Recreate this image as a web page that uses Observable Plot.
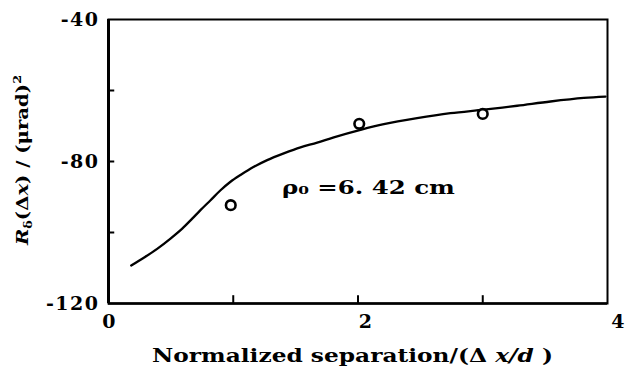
<!DOCTYPE html>
<html><head><meta charset="utf-8">
<script src="https://cdn.jsdelivr.net/npm/d3@7"></script>
<script src="https://cdn.jsdelivr.net/npm/@observablehq/plot@0.6"></script>
<style>
body{margin:0;background:#fff;}
</style>
</head><body><div id="chart"></div>
<script>
const curveX = [0.182,0.283,0.390,0.497,0.591,0.671,0.737,0.818,0.898,0.978,1.058,1.165,1.272,1.405,1.539,1.673,1.806,2.020,2.207,2.474,2.741,3.009,3.276,3.543,3.810,3.984];
const curveY = [-109.3,-107.1,-104.6,-101.7,-98.9,-96.1,-93.7,-90.9,-88.1,-85.7,-83.8,-81.5,-79.6,-77.7,-76.0,-74.7,-73.2,-71.1,-69.5,-67.8,-66.4,-65.4,-64.3,-63.1,-62.1,-61.7];
const pointX = [0.98,2.01,3.0];
const pointY = [-92.3,-69.4,-66.6];
const xTickLabels = ["0","2","4"];
const yTickLabels = ["-40","-80","-120"];
const minorX = [1,2,3];
const minorY = [-60,-80,-100];
const annotation = "ρ₀ =6. 42 cm";
const xTitle = ["Normalized separation/(Δ ", "x/d", " )"];

const curve = curveX.map((x,i)=>({x,y:curveY[i]}));
const pts = pointX.map((x,i)=>({x,y:pointY[i]}));
const FONT = "'DejaVu Serif','Liberation Serif',serif";

const xLabelMarks = xTickLabels.map((t,i)=>
  Plot.axisX([+t],{tickSize:0, tickPadding:11, fontSize:19, fontWeight:"bold", label:null,
    tickFormat:()=>t, dx:[1,8,11][i]}));

const plot = Plot.plot({
  width:634, height:367,
  marginLeft:108, marginRight:27, marginTop:19, marginBottom:64,
  style:{fontFamily:FONT, background:"#fff", color:"#000"},
  x:{domain:[0,4]},
  y:{domain:[-120,-40]},
  marks:[
    Plot.frame({stroke:"#000", strokeWidth:2}),
    Plot.ruleY([-120],{stroke:"#000", strokeWidth:2.5}),
    Plot.ruleX([0],{stroke:"#000", strokeWidth:3}),
    Plot.ruleX(minorX,{x:d=>d, y1:()=>-120, y2:()=>-117.8, stroke:"#000", strokeWidth:2}),
    Plot.ruleY(minorY,{y:d=>d, x1:()=>0, x2:()=>0.05, stroke:"#000", strokeWidth:2}),
    ...xLabelMarks,
    Plot.axisY(yTickLabels.map(Number),{tickSize:0, tickPadding:9, fontSize:19, fontWeight:"bold", label:null,
      tickFormat:d=>String(d)}),
    Plot.line(curve,{x:"x", y:"y", curve:"catmull-rom", stroke:"#000", strokeWidth:2.3}),
    Plot.dot(pts,{x:"x", y:"y", r:4.8, stroke:"#000", strokeWidth:2.6, fill:"#fff"}),
    Plot.text([annotation],{x:1.39, y:-87.3, text:d=>d, textAnchor:"start", fontSize:19, fontWeight:"bold"})
  ]
});
document.getElementById("chart").appendChild(plot);

const svg = d3.select(plot);
svg.selectAll("g[aria-label='y-axis tick label'] text, g[aria-label='x-axis tick label'] text")
  .attr("letter-spacing","1.5");
svg.selectAll("g[aria-label='text'] text").attr("textLength",173).attr("lengthAdjust","spacingAndGlyphs");

const xl = svg.append("text").attr("x",152).attr("y",362).attr("text-anchor","start")
  .attr("font-size",19).attr("font-weight","bold").attr("fill","#000")
  .attr("font-family",FONT).attr("textLength",401).attr("lengthAdjust","spacingAndGlyphs");
xl.append("tspan").text(xTitle[0]);
xl.append("tspan").attr("font-style","italic").text(xTitle[1]);
xl.append("tspan").text(xTitle[2]);

const yl = svg.append("text").attr("transform","translate(28,245) rotate(-90)").attr("text-anchor","start")
  .attr("font-size",17).attr("font-weight","bold").attr("fill","#000")
  .attr("font-family",FONT).attr("textLength",170).attr("lengthAdjust","spacingAndGlyphs");
yl.append("tspan").attr("font-style","italic").text("R");
yl.append("tspan").attr("font-size",11).attr("dy",4).text("δ");
yl.append("tspan").attr("dy",-4).text("(Δ");
yl.append("tspan").attr("font-style","italic").text("x");
yl.append("tspan").text(") / (μrad)");
yl.append("tspan").attr("font-size",11).attr("dy",-7).text("2");
</script></body></html>
